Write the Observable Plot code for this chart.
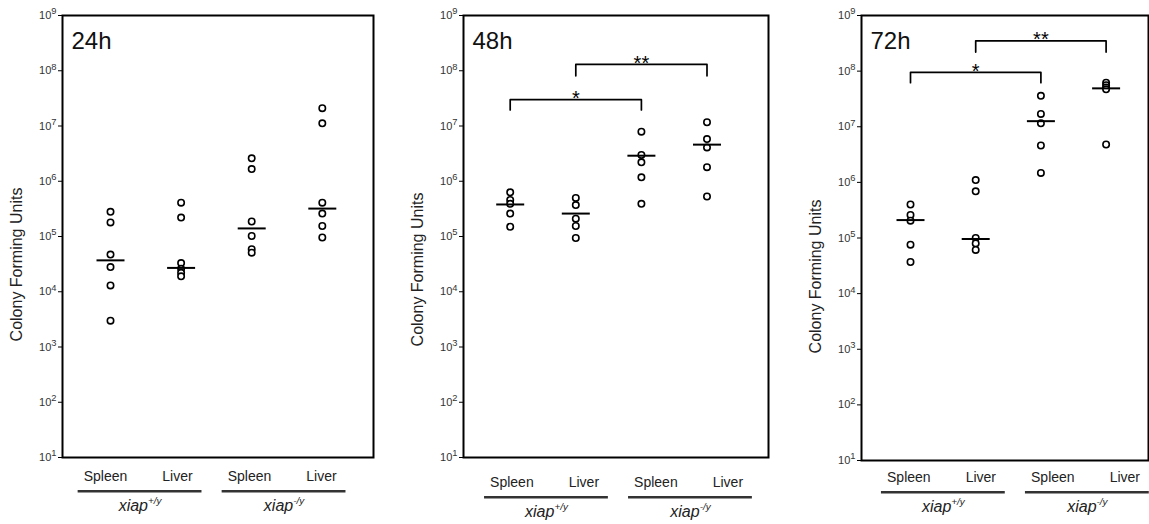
<!DOCTYPE html>
<html><head><meta charset="utf-8">
<script src="https://cdn.jsdelivr.net/npm/d3@7"></script>
<script src="https://cdn.jsdelivr.net/npm/@observablehq/plot@0.6"></script>
<style>
html,body{margin:0;padding:0;background:#fff;}
#chart{position:relative;width:1149px;height:524px;overflow:hidden;font-family:"Liberation Sans",Arial,Helvetica,sans-serif;}
#chart > svg{position:absolute;}
</style></head><body><div id="chart"></div>
<script>
// ---------- data ----------
const tissues = ["Spleen", "Liver", "Spleen", "Liver"];
const genotypeLabels = ["xiap^+/y", "xiap^-/y"];
const genotypeOfGroup = [0, 0, 1, 1];
const yTicks = [1e1, 1e2, 1e3, 1e4, 1e5, 1e6, 1e7, 1e8, 1e9];
const yLabel = "Colony Forming Units";
const times = ["24h", "48h", "72h"];

// 24h (groups: Spleen +/y, Liver +/y, Spleen -/y, Liver -/y)
const cfu24SpleenWT = [2.8e5, 1.8e5, 4.7e4, 2.8e4, 1.3e4, 3.0e3];
const cfu24LiverWT  = [4.1e5, 2.2e5, 3.3e4, 2.6e4, 2.2e4, 1.9e4];
const cfu24SpleenKO = [2.6e6, 1.66e6, 1.87e5, 1.02e5, 5.9e4, 5.1e4];
const cfu24LiverKO  = [2.1e7, 1.12e7, 4.1e5, 2.6e5, 1.55e5, 9.6e4];
const median24 = [3.7e4, 2.7e4, 1.4e5, 3.2e5];

// 48h
const cfu48SpleenWT = [6.3e5, 4.6e5, 3.9e5, 2.6e5, 1.5e5];
const cfu48LiverWT  = [5.0e5, 3.7e5, 2.1e5, 1.55e5, 9.4e4];
const cfu48SpleenKO = [7.9e6, 3.0e6, 2.2e6, 1.18e6, 3.9e5];
const cfu48LiverKO  = [1.17e7, 5.8e6, 4.1e6, 1.8e6, 5.3e5];
const median48 = [3.8e5, 2.6e5, 2.9e6, 4.6e6];

// 72h
const cfu72SpleenWT = [4.0e5, 2.6e5, 2.05e5, 7.6e4, 3.7e4];
const cfu72LiverWT  = [1.1e6, 6.9e5, 1.0e5, 8.0e4, 6.1e4];
const cfu72SpleenKO = [3.6e7, 1.7e7, 1.15e7, 4.6e6, 1.48e6];
const cfu72LiverKO  = [6.2e7, 5.6e7, 5.1e7, 4.7e7, 4.8e6];
const median72 = [2.1e5, 9.6e4, 1.26e7, 4.9e7];

// significance brackets (group indices, bracket level, leg end, label)
const bracketFrom48 = [0, 1], bracketTo48 = [2, 3];
const bracketTop48 = [3.0e7, 1.3e8], bracketFoot48 = [1.95e7, 8.1e7];
const bracketLabel48 = ["*", "**"];
const bracketFrom72 = [0, 1], bracketTo72 = [2, 3];
const bracketTop72 = [9.5e7, 3.5e8], bracketFoot72 = [6.2e7, 2.2e8];
const bracketLabel72 = ["*", "**"];

const panelsData = [
  {values: [cfu24SpleenWT, cfu24LiverWT, cfu24SpleenKO, cfu24LiverKO], medians: median24,
   from: [], to: [], top: [], foot: [], label: []},
  {values: [cfu48SpleenWT, cfu48LiverWT, cfu48SpleenKO, cfu48LiverKO], medians: median48,
   from: bracketFrom48, to: bracketTo48, top: bracketTop48, foot: bracketFoot48, label: bracketLabel48},
  {values: [cfu72SpleenWT, cfu72LiverWT, cfu72SpleenKO, cfu72LiverKO], medians: median72,
   from: bracketFrom72, to: bracketTo72, top: bracketTop72, foot: bracketFoot72, label: bracketLabel72}
];

// ---------- layout ----------
const FONT = '"Liberation Sans", Arial, Helvetica, sans-serif';
const layout = [
  {left: 0,     frameW: 311, mr: 4, frameH: 442, mb: 4, c0: 48,   step: 70.6, stripOff: 43,   stripTop: 465.7, labelDy: 28},
  {left: 401.3, frameW: 305, mr: 4, frameH: 442, mb: 4, c0: 46.7, step: 65.6, stripOff: 48.4, stripTop: 471.7, labelDy: 33},
  {left: 799,   frameW: 287, mr: 1, frameH: 445, mb: 3, c0: 49,   step: 65.2, stripOff: 47.3, stripTop: 467.3, labelDy: 38.5}
];
const ML = 62, MT = 15, LABEL_STEP = 72;

const hline = {draw(ctx, size) { const w = Math.sqrt(size / Math.PI); ctx.moveTo(-w, 0); ctx.lineTo(w, 0); }};

function superscripts(svg, supScale, raise) {
  svg.querySelectorAll("text").forEach(t => {
    const s = t.textContent;
    if (!s.includes("^")) return;
    const [base, sup] = s.split("^");
    const fs = parseFloat(getComputedStyle(t).fontSize) || 12;
    while (t.firstChild) t.removeChild(t.firstChild);
    const a = document.createElementNS("http://www.w3.org/2000/svg", "tspan");
    a.textContent = base;
    const b = document.createElementNS("http://www.w3.org/2000/svg", "tspan");
    b.textContent = sup;
    b.setAttribute("font-size", fs * supScale);
    b.setAttribute("dy", -fs * raise);
    t.appendChild(a); t.appendChild(b);
  });
}

const chart = document.getElementById("chart");

panelsData.forEach((P, i) => {
  const L = layout[i];
  const rows = P.values.flatMap((vals, g) => vals.map(v => ({g, v})));
  const meds = P.medians.map((v, g) => ({g, v}));
  const br = P.from.map((f, k) => ({k, from: f, to: P.to[k], top: P.top[k], foot: P.foot[k], label: P.label[k]}));
  const brLines = br.flatMap(b => [
    {k: b.k, g: b.from, v: b.foot}, {k: b.k, g: b.from, v: b.top},
    {k: b.k, g: b.to, v: b.top}, {k: b.k, g: b.to, v: b.foot}
  ]);
  const W = ML + L.frameW + L.mr;
  const main = Plot.plot({
    width: W, height: MT + L.frameH + L.mb,
    marginLeft: ML, marginRight: L.mr, marginTop: MT, marginBottom: L.mb,
    style: {fontFamily: FONT, background: "transparent", overflow: "visible"},
    x: {type: "linear", domain: [-L.c0 / L.step, (L.frameW - L.c0) / L.step], axis: null},
    y: {type: "log", domain: [1e1, 1e9], axis: null},
    marks: [
      Plot.axisY({ticks: yTicks, tickSize: 4, tickPadding: 2, label: null, fontSize: 11, fill: "#333",
                  tickFormat: d => "10^" + Math.round(Math.log10(d))}),
      Plot.frame({stroke: "black", strokeWidth: 2}),
      Plot.text([times[i]], {frameAnchor: "top-left", dx: 9, dy: 16.7, lineAnchor: "top", textAnchor: "start", fontSize: 24, fill: "#111"}),
      Plot.text([yLabel], {frameAnchor: "left", rotate: -90, textAnchor: "middle", lineAnchor: "middle", dx: -46, dy: L.labelDy, fontSize: 16, fill: "#222"}),
      Plot.line(brLines, {x: "g", y: "v", z: "k", stroke: "black", strokeWidth: 1.7}),
      Plot.text(br, {x: d => (d.from + d.to) / 2, y: "top", text: "label", dy: -1, lineAnchor: "middle", fontSize: 20}),
      Plot.dot(rows, {x: "g", y: "v", r: 3.2, stroke: "black", strokeWidth: 1.6, fill: "white"}),
      Plot.dot(meds, {x: "g", y: "v", symbol: hline, r: 14, stroke: "black", strokeWidth: 2, fill: "none"})
    ]
  });
  main.style.left = L.left + "px";
  main.style.top = "0px";
  chart.appendChild(main);
  superscripts(main, 0.85, 0.42);

  // label strip below the panel
  const groups = [0, 1].map(gi => {
    const idx = genotypeOfGroup.map((gg, j) => gg === gi ? j : -1).filter(j => j >= 0);
    return {label: genotypeLabels[gi], x1: d3.min(idx) - 0.38, x2: d3.max(idx) + 0.34};
  });
  const strip = Plot.plot({
    width: W, height: 50,
    marginLeft: ML, marginRight: L.mr, marginTop: 10, marginBottom: 50 - 10 - 29.4,
    style: {fontFamily: FONT, background: "transparent", overflow: "visible"},
    x: {type: "linear", domain: [-L.stripOff / LABEL_STEP, (L.frameW - L.stripOff) / LABEL_STEP], axis: null},
    y: {type: "linear", domain: [0, 2], reverse: true, axis: null},
    marks: [
      Plot.text(tissues, {x: (d, j) => j, y: () => 0, text: d => d, fontSize: 14, fill: "#222"}),
      Plot.ruleY(groups, {x1: "x1", x2: "x2", y: () => 1, stroke: "#333", strokeWidth: 2.5}),
      Plot.text(groups, {x: d => (d.x1 + d.x2) / 2, y: () => 2, text: "label", fontSize: 16, fontStyle: "italic", fill: "#222"})
    ]
  });
  strip.style.left = L.left + "px";
  strip.style.top = L.stripTop + "px";
  chart.appendChild(strip);
  superscripts(strip, 0.62, 0.45);
});
</script></body></html>
